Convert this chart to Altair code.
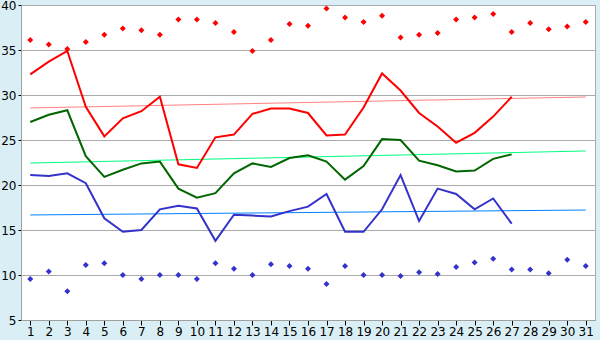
import altair as alt
import pandas as pd

days = list(range(1, 32))
max_points = [36.1, 35.6, 35.1, 35.9, 36.7, 37.4, 37.2, 36.7, 38.4, 38.4, 38.0, 37.0, 34.9, 36.1, 37.9,
              37.7, 39.6, 38.6, 38.1, 38.8, 36.4, 36.7, 36.9, 38.4, 38.6, 39.0, 37.0, 38.0, 37.3, 37.6, 38.1]
min_points = [9.55, 10.4, 8.2, 11.1, 11.3, 10.0, 9.55, 10.0, 10.0, 9.55, 11.3, 10.7, 10.0, 11.2, 11.0,
              10.7, 9.0, 11.0, 10.0, 10.0, 9.9, 10.3, 10.1, 10.9, 11.4, 11.8, 10.6, 10.6, 10.2, 11.7, 11.0]
high_line = [32.3, 33.7, 34.9, 28.7, 25.4, 27.4, 28.2, 29.8, 22.3, 21.9, 25.3, 25.6, 27.9, 28.5, 28.5,
             28.0, 25.5, 25.6, 28.6, 32.4, 30.5, 28.0, 26.5, 24.7, 25.8, 27.6, 29.8]
mid_line = [27.0, 27.8, 28.3, 23.2, 20.9, 21.7, 22.4, 22.6, 19.6, 18.6, 19.1, 21.3, 22.4, 22.0, 23.0,
            23.3, 22.6, 20.6, 22.1, 25.1, 25.0, 22.7, 22.2, 21.5, 21.6, 22.9, 23.4]
low_line = [21.1, 21.0, 21.3, 20.2, 16.3, 14.8, 15.0, 17.3, 17.7, 17.4, 13.8, 16.7, 16.6, 16.5, 17.1,
            17.6, 19.0, 14.8, 14.8, 17.3, 21.1, 16.0, 19.6, 19.0, 17.3, 18.5, 15.7]
trend_days = [1, 31]
trend_high = [28.56, 29.78]
trend_mid = [22.44, 23.78]
trend_low = [16.67, 17.22]
y_ticks = [5, 10, 15, 20, 25, 30, 35, 40]

rows = []
for name, vals in [("high", high_line), ("mid", mid_line), ("low", low_line)]:
    for d, v in zip(days, vals):
        rows.append({"day": d, "value": v, "series": name})
lines_df = pd.DataFrame(rows)

trows = []
for name, vals in [("thigh", trend_high), ("tmid", trend_mid), ("tlow", trend_low)]:
    for d, v in zip(trend_days, vals):
        trows.append({"day": d, "value": v, "series": name})
trend_df = pd.DataFrame(trows)

prows = []
for name, vals in [("max", max_points), ("min", min_points)]:
    for d, v in zip(days, vals):
        prows.append({"day": d, "value": v, "series": name})
pts_df = pd.DataFrame(prows)

xs = alt.Scale(domain=[0.5, 31.5], nice=False, zero=False)
ys = alt.Scale(domain=[5, 40], nice=False, zero=False)

x_axis = alt.Axis(values=days, grid=False, title=None, tickSize=5, labelPadding=1,
                  labelFontSize=12, labelColor="black", domainColor="#A0A0A0", tickColor="black",
                  labelFont="DejaVu Sans", labelFlush=False, labelOverlap=False, labelSeparation=0)
y_axis = alt.Axis(values=y_ticks, grid=True, gridColor="#AAAAAA", title=None, tickSize=3,
                  labelPadding=2, labelFontSize=12, labelColor="black", domainColor="#A0A0A0",
                  tickColor="black", labelFont="DejaVu Sans")

X = alt.X("day:Q", scale=xs, axis=x_axis)
Y = alt.Y("value:Q", scale=ys, axis=y_axis)

color_lines = alt.Scale(domain=["high", "mid", "low"], range=["#FF0000", "#006600", "#3333CC"])
color_trend = alt.Scale(domain=["thigh", "tmid", "tlow"], range=["#FF8080", "#00FF80", "#0080FF"])
color_pts = alt.Scale(domain=["max", "min"], range=["#FF0000", "#3333CC"])

trend = alt.Chart(trend_df).mark_line(strokeWidth=1, clip=True).encode(
    x=X, y=Y,
    color=alt.Color("series:N", scale=color_trend, legend=None),
    detail="series:N",
)

lines = alt.Chart(lines_df).mark_line(strokeWidth=2, clip=True).encode(
    x=X, y=Y,
    color=alt.Color("series:N", scale=color_lines, legend=None),
    detail="series:N",
)

pts = alt.Chart(pts_df).mark_point(shape="diamond", filled=True, size=36, opacity=1).encode(
    x=X, y=Y,
    color=alt.Color("series:N", scale=color_pts, legend=None),
)

chart = alt.layer(trend, lines, pts).resolve_scale(color="independent").properties(
    width=574, height=315,
    autosize=alt.AutoSizeParams(type="none"),
    padding={"left": 21, "top": 5, "right": 5, "bottom": 20},
    background="#DAEEF5",
).configure_view(fill="white", stroke="#AAAAAA", strokeWidth=1
).configure_axisX(labelOverlap=False)

chart.save("out.html", embed_options={"renderer": "svg", "actions": False})
